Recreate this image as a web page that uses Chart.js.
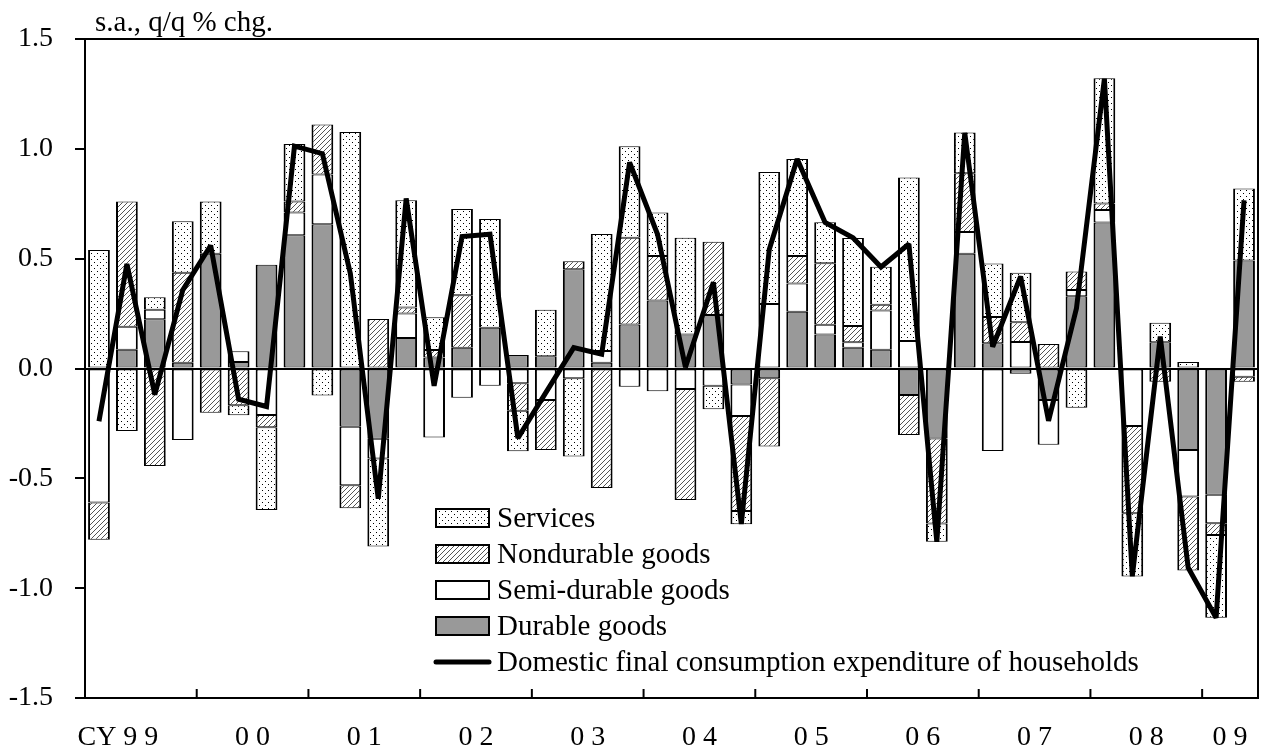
<!DOCTYPE html>
<html><head><meta charset="utf-8">
<script src="https://cdn.jsdelivr.net/npm/chart.js@4.4.1/dist/chart.umd.min.js"></script>
<style>html,body{margin:0;padding:0;background:#fff}canvas{display:block}</style>
</head><body>
<canvas id="c" width="1261" height="755"></canvas>
<script>
// ---- data ----
const quarters = ['1999Q1','1999Q2','1999Q3','1999Q4','2000Q1','2000Q2','2000Q3','2000Q4',
  '2001Q1','2001Q2','2001Q3','2001Q4','2002Q1','2002Q2','2002Q3','2002Q4',
  '2003Q1','2003Q2','2003Q3','2003Q4','2004Q1','2004Q2','2004Q3','2004Q4',
  '2005Q1','2005Q2','2005Q3','2005Q4','2006Q1','2006Q2','2006Q3','2006Q4',
  '2007Q1','2007Q2','2007Q3','2007Q4','2008Q1','2008Q2','2008Q3','2008Q4',
  '2009Q1','2009Q2'];
const yearLabels = ['CY 9 9','0 0','0 1','0 2','0 3','0 4','0 5','0 6','0 7','0 8','0 9'];
const durable = [0,0.085,0.224,0.026,0.522,0.03,0.472,0.607,
  0.657,-0.265,-0.32,0.139,0.05,0.095,0.185,0.062,
  0.056,0.452,0.026,0.2,0.31,0.155,0.244,-0.073,
  -0.044,0.258,0.155,0.095,0.085,-0.121,-0.319,0.522,
  0.115,-0.024,-0.143,0.329,0.665,0,0.119,-0.371,
  -0.575,0.492];
const semiDurable = [-0.61,0.105,0.044,-0.325,0,0.049,-0.212,0.103,
  0.226,-0.266,-0.09,0.111,-0.314,-0.133,-0.079,-0.067,
  -0.143,-0.044,0.054,-0.083,-0.103,-0.093,-0.079,-0.143,
  0.294,0.129,0.044,0.024,0.179,0.125,0,0.099,
  -0.375,0.121,-0.204,0.028,0.056,-0.262,0,-0.212,
  -0.129,-0.038];
const nondurable = [-0.17,0.57,-0.444,0.41,-0.202,-0.167,-0.055,0.05,
  0.228,-0.105,0.225,0.028,0.034,0.238,0,-0.125,
  -0.228,0.036,-0.544,0.395,0.202,-0.506,0.333,-0.433,
  -0.311,0.125,0.28,0.075,0.026,-0.182,-0.387,0.268,
  0.119,0.089,0.111,0.085,0.03,-0.397,-0.06,-0.337,
  -0.054,-0.022];
const services = [0.54,-0.285,0.056,0.234,0.238,-0.046,-0.377,0.262,
  -0.123,1.077,-0.40,0.488,0.149,0.393,0.496,-0.185,
  0.212,-0.357,0.532,0.417,0.198,0.44,-0.107,-0.06,
  0.601,0.442,0.187,0.40,0.173,0.744,-0.083,0.185,
  0.244,0.226,0,-0.179,0.57,-0.288,0.089,0.03,
  -0.377,0.327];
const totalHH = [-0.24,0.476,-0.119,0.357,0.56,-0.14,-0.173,1.012,
  0.978,0.433,-0.593,0.774,-0.079,0.601,0.611,-0.317,
  -0.11,0.095,0.065,0.938,0.611,0.006,0.393,-0.708,
  0.542,0.954,0.665,0.595,0.462,0.567,-0.789,1.073,
  0.099,0.419,-0.238,0.274,1.319,-0.946,0.145,-0.907,
  -1.135,0.766];
const seriesNames = ['Durable goods','Semi-durable goods','Nondurable goods','Services',
  'Domestic final consumption expenditure of households'];
const unitLabel = 's.a., q/q % chg.';

// ---- styles ----
const FONT = 'Liberation Serif, Times New Roman, serif';
function dotPattern(){
  const c=document.createElement('canvas'); c.width=6; c.height=6;
  const g=c.getContext('2d'); g.fillStyle='#fff'; g.fillRect(0,0,6,6);
  g.fillStyle='#000'; g.fillRect(1,1,1,1); g.fillRect(4,4,1,1);
  return g.createPattern(c,'repeat');
}
function hatchPattern(){
  const s=5; const c=document.createElement('canvas'); c.width=s; c.height=s;
  const g=c.getContext('2d'); g.fillStyle='#fff'; g.fillRect(0,0,s,s);
  g.strokeStyle='#555'; g.lineWidth=1;
  g.beginPath(); g.moveTo(0,s); g.lineTo(s,0);
  g.moveTo(-1,1); g.lineTo(1,-1); g.moveTo(s-1,s+1); g.lineTo(s+1,s-1); g.stroke();
  return g.createPattern(c,'repeat');
}
const fills = ['#999999','#ffffff',hatchPattern(),dotPattern()];
const barBorder = {left:2,right:2,top:1,bottom:1};

const barData = [durable, semiDurable, nondurable, services];
const datasets = barData.map((d,i)=>({
  type:'bar', label:seriesNames[i], data:d, backgroundColor:fills[i],
  borderColor:'#000', borderWidth:barBorder, borderSkipped:false,
  barPercentage:0.78, categoryPercentage:1, stack:'comp', order:1
}));
datasets.push({type:'line', label:seriesNames[4], data:totalHH, borderColor:'#000',
  borderWidth:5, pointRadius:0, fill:false, tension:0, stack:'total', order:0,
  borderJoinStyle:'miter'});

const decor = {
  id:'decor',
  beforeDatasetsDraw(chart){ chart.ctx.miterLimit = 1.6; },
  afterDatasetsDraw(chart){ chart.ctx.miterLimit = 10; },
  afterDraw(chart){
    const {ctx, chartArea:a, scales:{x}} = chart;
    ctx.save();
    ctx.strokeStyle='#000'; ctx.lineWidth=2;
    ctx.beginPath(); ctx.moveTo(a.left,a.top); ctx.lineTo(a.right,a.top); ctx.lineTo(a.right,a.bottom); ctx.stroke();
    // year ticks and labels
    const starts = quarters.map((q,i)=>q.endsWith('Q1')?i:-1).filter(i=>i>=0);
    ctx.lineWidth=2;
    starts.forEach((s,k)=>{
      const e = k+1<starts.length ? starts[k+1] : quarters.length;
      const p0 = x.getPixelForValue(s-0.5), p1 = x.getPixelForValue(e-0.5);
      if (s>0){ ctx.beginPath(); ctx.moveTo(p0,a.bottom); ctx.lineTo(p0,a.bottom-9); ctx.stroke(); }
      const c = (p0+p1)/2, lab = yearLabels[k];
      ctx.font = '28px '+FONT; ctx.fillStyle='#000'; ctx.textBaseline='middle';
      const sp = lab.lastIndexOf(' ', lab.length-3);
      if (sp>0){
        const tail = lab.slice(sp+1);
        ctx.textAlign='right'; ctx.fillText(lab, c + ctx.measureText(tail).width/2, 738);
      } else { ctx.textAlign='center'; ctx.fillText(lab, c, 738); }
    });
    // unit label
    ctx.font = '29px '+FONT;
    ctx.textAlign='left'; ctx.textBaseline='alphabetic';
    ctx.fillText(unitLabel, 95, 31);
    // legend
    const ds = chart.data.datasets;
    const order = [3,2,1,0,4];
    order.forEach((di,r)=>{
      const cy = 518 + r*36;
      const d = ds[di];
      if (d.type==='line'){
        ctx.strokeStyle='#000'; ctx.lineWidth=5; ctx.lineCap='round';
        ctx.beginPath(); ctx.moveTo(436,cy); ctx.lineTo(489,cy); ctx.stroke(); ctx.lineCap='butt';
      } else {
        ctx.fillStyle=d.backgroundColor; ctx.fillRect(435,cy-10,55,20);
        ctx.strokeStyle='#000'; ctx.lineWidth=2; ctx.strokeRect(436,cy-9,53,18);
      }
      ctx.fillStyle='#000'; ctx.font='29px '+FONT; ctx.textAlign='left'; ctx.textBaseline='alphabetic';
      ctx.fillText(d.label, 497, cy+9);
    });
    ctx.restore();
  }
};

new Chart(document.getElementById('c'), {
  data:{labels:quarters, datasets},
  options:{
    responsive:false, animation:false, devicePixelRatio:1,
    layout:{padding:{top:39,right:3,bottom:0,left:0}},
    plugins:{legend:{display:false}, tooltip:{enabled:false}, title:{display:false}},
    scales:{
      x:{type:'category', stacked:true, offset:true,
        grid:{display:false}, ticks:{display:false},
        border:{display:true,color:'#000',width:2},
        afterFit:s=>{s.height=57;}},
      y:{type:'linear', stacked:true, min:-1.5, max:1.5,
        ticks:{stepSize:0.5, color:'#000', padding:22, font:{family:FONT,size:28},
          callback:v=>Number(v).toFixed(1)},
        grid:{display:true, drawOnChartArea:true, drawTicks:true, tickLength:10,
          color:c=>(c.tick && Math.abs(c.tick.value)<1e-9)?'#000':'rgba(0,0,0,0)',
          lineWidth:2, tickColor:'#000', tickWidth:2},
        border:{display:true,color:'#000',width:2},
        afterFit:s=>{s.width=85;}}
    }
  },
  plugins:[decor]
});
</script>
</body></html>
